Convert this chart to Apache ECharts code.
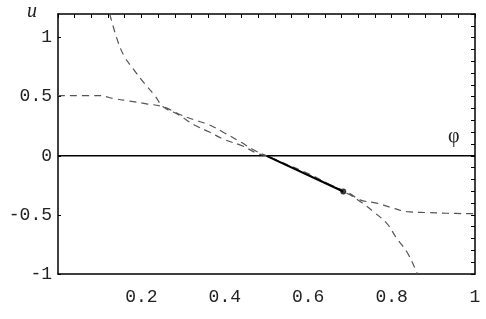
<!DOCTYPE html>
<html>
<head>
<meta charset="utf-8">
<script src="https://cdn.jsdelivr.net/npm/echarts@6/dist/echarts.min.js"></script>
<style>html,body{margin:0;padding:0;background:#fff}#c{width:486px;height:319px}</style>
</head>
<body>
<div id="c"></div>
<script>
// x (phi) ticks and y (u) ticks
const xTicks = [0.2, 0.4, 0.6, 0.8, 1];
const yTicks = [-1, -0.5, 0, 0.5, 1];
// dashed curve A (steep branch)
const curveA = [[0.124,1.2],[0.144,0.963],[0.16,0.836],[0.18,0.737],[0.208,0.61],[0.232,0.511],[0.252,0.415],[0.288,0.35],[0.326,0.263],[0.362,0.203],[0.40,0.136],[0.44,0.087],[0.48,0.017],[0.5,0],[0.54,-0.06],[0.6,-0.15],[0.65,-0.24],[0.7,-0.33],[0.73,-0.40],[0.756,-0.472],[0.788,-0.57],[0.812,-0.697],[0.836,-0.81],[0.856,-0.95],[0.862,-1]];
// dashed curve B (flat branch)
const curveB = [[0,0.51],[0.096,0.51],[0.136,0.483],[0.172,0.463],[0.212,0.44],[0.252,0.415],[0.292,0.35],[0.326,0.305],[0.362,0.263],[0.396,0.2],[0.436,0.121],[0.472,0.045],[0.5,0],[0.55,-0.08],[0.6,-0.16],[0.65,-0.24],[0.7,-0.32],[0.724,-0.373],[0.764,-0.40],[0.804,-0.443],[0.836,-0.472],[0.884,-0.48],[0.932,-0.486],[1,-0.49]];
// zero line
const zeroLine = [[0,0],[1,0]];
// solid segment with end point
const segment = [[0.5,0],[0.684,-0.302]];
const endPoint = [[0.684,-0.302]];

const chart = echarts.init(document.getElementById('c'));
const labelFont = {fontFamily:'Liberation Mono', fontSize:18, color:'#222'};
chart.setOption({
  animation:false,
  grid:{left:58,right:11,top:14,bottom:45,show:false},
  xAxis:[{
    type:'value',min:0,max:1,interval:0.2,position:'bottom',
    axisLine:{show:true,onZero:false,lineStyle:{color:'#000',width:1.5}},
    axisTick:{show:false},
    splitLine:{show:false},
    axisLabel:Object.assign({margin:14,showMinLabel:false,
      formatter:v=>xTicks.includes(+v.toFixed(2))?String(+v.toFixed(2)):''},labelFont)
  },{
    type:'value',min:0,max:1,interval:0.04,position:'top',
    axisLine:{show:true,onZero:false,lineStyle:{color:'#000',width:1.5}},
    axisTick:{show:true,inside:true,length:4,lineStyle:{color:'#000',width:1}},
    axisLabel:{show:false},splitLine:{show:false}
  }],
  yAxis:[{
    type:'value',min:-1,max:1.2,interval:0.5,position:'left',
    axisLine:{show:true,onZero:false,lineStyle:{color:'#000',width:1.5}},
    axisTick:{show:true,inside:true,length:3,lineStyle:{color:'#000'}},
    splitLine:{show:false},
    axisLabel:Object.assign({margin:6,showMaxLabel:false,
      formatter:v=>yTicks.includes(+v.toFixed(2))?String(+v.toFixed(2)):''},labelFont)
  },{
    type:'value',min:-1,max:1.2,interval:0.1,position:'right',
    axisLine:{show:true,onZero:false,lineStyle:{color:'#000',width:1.5}},
    axisTick:{show:true,inside:true,length:4,lineStyle:{color:'#000',width:1}},
    axisLabel:{show:false},splitLine:{show:false}
  }],
  graphic:[
    {type:'text',left:27,top:2,style:{text:'u',font:'italic 20px "Liberation Serif"',fill:'#222'}},
    {type:'text',left:448,top:127,style:{text:'φ',font:'20px "Liberation Serif"',fill:'#222'}}
  ],
  series:[
    {type:'line',data:zeroLine,showSymbol:false,lineStyle:{color:'#000',width:1.5}},
    {type:'line',data:curveB,showSymbol:false,smooth:0.4,lineStyle:{color:'#555',width:1.2,type:[7,5]}},
    {type:'line',data:curveA,showSymbol:false,smooth:0.4,lineStyle:{color:'#555',width:1.2,type:[7,5]}},
    {type:'line',data:segment,showSymbol:false,lineStyle:{color:'#000',width:2}},
    {type:'scatter',data:endPoint,symbolSize:6,itemStyle:{color:'#000'}}
  ]
});
</script>
</body>
</html>
